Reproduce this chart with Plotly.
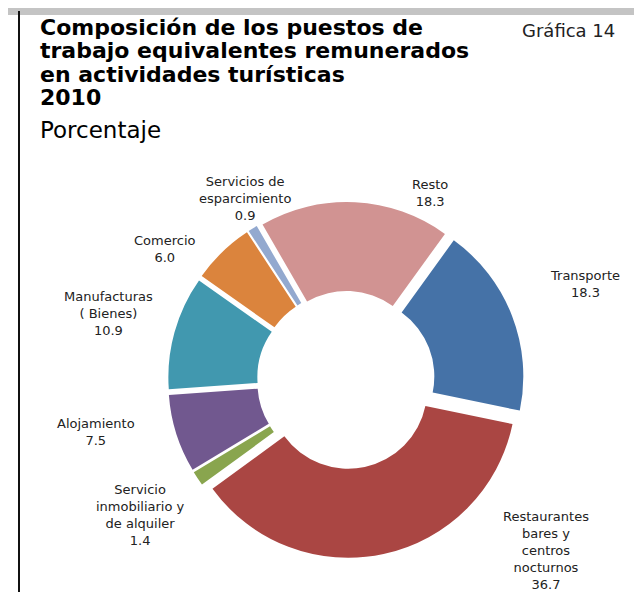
import plotly.graph_objects as go

# Data
categories = [
    "Resto",
    "Transporte",
    "Restaurantes<br>bares y<br>centros<br>nocturnos",
    "Servicio<br>inmobiliario y<br>de alquiler",
    "Alojamiento",
    "Manufacturas<br>( Bienes)",
    "Comercio",
    "Servicios de<br>esparcimiento",
]
values = [18.3, 18.3, 36.7, 1.4, 7.5, 10.9, 6.0, 0.9]
colors = ["#D19392", "#4572A7", "#AA4643", "#89A54E", "#71588F", "#4198AF", "#DB843D", "#93A9CF"]

title_lines = [
    "Composición de los puestos de",
    "trabajo equivalentes remunerados",
    "en actividades turísticas",
    "2010",
]
subtitle = "Porcentaje"
chart_tag = "Gráfica 14"

# Label placement (pixels, figure coords, from top-left): centre x, middle y
label_x = [422, 577, 538, 132, 88, 100, 157, 237]
label_y = [184.5, 276.5, 542.5, 507, 423.5, 305, 240.5, 190]

W, H = 642, 592
FONT = "DejaVu Sans, Liberation Sans, Arial, sans-serif"


def px(x):
    return x / W


def py(y):
    return 1 - y / H


fig = go.Figure(
    go.Pie(
        labels=categories,
        values=values,
        marker=dict(colors=colors, line=dict(width=0)),
        hole=0.47,
        pull=[0.06] * len(values),
        sort=False,
        direction="clockwise",
        rotation=-30,
        textinfo="none",
        domain=dict(x=[px(160), px(516)], y=[py(550), py(194)]),
        showlegend=False,
        hoverinfo="label+value",
        automargin=False,
    )
)

annotations = []
title_y = [20, 43, 66, 89]
for txt, y in zip(title_lines, title_y):
    annotations.append(dict(
        text="<b>" + txt + "</b>", x=px(30), y=py(y), xref="paper", yref="paper",
        xanchor="left", yanchor="middle", showarrow=False,
        font=dict(family=FONT, size=22, color="#000000"),
    ))
annotations.append(dict(
    text=subtitle, x=px(30), y=py(122), xref="paper", yref="paper",
    xanchor="left", yanchor="middle", showarrow=False,
    font=dict(family=FONT, size=23, color="#000000"),
))
annotations.append(dict(
    text=chart_tag, x=px(609), y=py(22), xref="paper", yref="paper",
    xanchor="right", yanchor="middle", showarrow=False,
    font=dict(family=FONT, size=18, color="#222222"),
))

for lab, val, lx, ly in zip(categories, values, label_x, label_y):
    annotations.append(dict(
        text=f"{lab}<br>{val:.1f}", x=px(lx), y=py(ly), xref="paper", yref="paper",
        xanchor="center", yanchor="middle", align="center", showarrow=False,
        font=dict(family=FONT, size=13, color="#222222"),
    ))

shapes = [
    dict(type="rect", xref="paper", yref="paper", x0=0, x1=1, y0=py(7), y1=1,
         fillcolor="#c4c4c4", line=dict(width=0)),
    dict(type="line", xref="paper", yref="paper", x0=px(11), x1=px(11), y0=0, y1=py(3),
         line=dict(color="#111111", width=2)),
]

fig.update_layout(
    width=W, height=H,
    margin=dict(l=0, r=0, t=0, b=0, pad=0, autoexpand=False),
    paper_bgcolor="white", plot_bgcolor="white",
    annotations=annotations, shapes=shapes,
)

fig.write_html("out.html")
